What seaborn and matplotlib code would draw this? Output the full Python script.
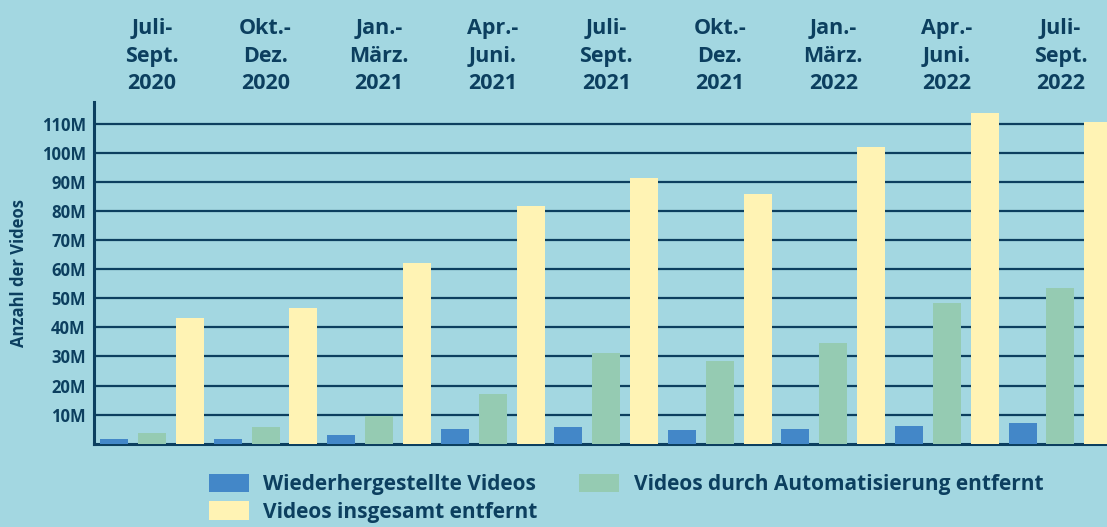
import seaborn as sns
import matplotlib.pyplot as plt
import pandas as pd
from matplotlib.ticker import FuncFormatter

# Quartale (oben als Achsenbeschriftung)
quarters = ["Juli-\nSept.\n2020", "Okt.-\nDez.\n2020", "Jan.-\nMärz.\n2021",
            "Apr.-\nJuni.\n2021", "Juli-\nSept.\n2021", "Okt.-\nDez.\n2021",
            "Jan.-\nMärz.\n2022", "Apr.-\nJuni.\n2022", "Juli-\nSept.\n2022"]

# Werte in Millionen
restored = [1.5, 1.5, 2.9, 5.0, 5.7, 4.6, 5.0, 6.0, 7.0]
automated = [3.6, 5.7, 9.6, 17.0, 31.1, 28.4, 34.5, 48.3, 53.4]
total = [43.1, 46.6, 62.0, 81.6, 91.2, 85.7, 101.9, 113.6, 110.5]

series = ["Wiederhergestellte Videos", "Videos durch Automatisierung entfernt",
          "Videos insgesamt entfernt"]
colors = ["#4387c8", "#95cbb2", "#fff3b4"]

bg = "#a3d7e1"
navy = "#0c3f5f"

rows = []
for i, q in enumerate(quarters):
    for name, vals in zip(series, [restored, automated, total]):
        rows.append({"Quartal": q, "Serie": name, "Wert": vals[i]})
df = pd.DataFrame(rows)

sns.set_style("white")
plt.rcParams["font.family"] = ["Open Sans", "DejaVu Sans"]

fig = plt.figure(figsize=(11.07, 5.27), dpi=100, facecolor=bg)
ax = fig.add_axes([0.085, 0.158, 0.915, 0.648])
ax.set_facecolor(bg)

sns.barplot(data=df, x="Quartal", y="Wert", hue="Serie", hue_order=series,
            palette=colors, width=1.0, gap=0.26, saturation=1, ax=ax,
            linewidth=0, edgecolor="none", zorder=3)

ax.set_ylim(0, 117.4)
ax.set_xlim(-0.51, 8.41)
ax.set_yticks(range(10, 111, 10))
ax.yaxis.set_major_formatter(FuncFormatter(lambda v, p: f"{v:.0f}M"))
ax.grid(axis="y", color=navy, linewidth=1.6, zorder=0)
ax.set_axisbelow(True)

ax.xaxis.tick_top()
ax.set_xlabel("")
ax.set_ylabel("Anzahl der Videos", color=navy, fontsize=12, fontweight="bold",
              labelpad=10)
ax.tick_params(axis="both", length=0, colors=navy)
ax.tick_params(axis="x", pad=6, labelsize=15.5)
ax.tick_params(axis="y", pad=6, labelsize=12)
for t in ax.get_xticklabels():
    t.set_fontweight("bold")
    t.set_linespacing(1.4)
for t in ax.get_yticklabels():
    t.set_fontweight("bold")

for s in ["top", "right"]:
    ax.spines[s].set_visible(False)
for s in ["left", "bottom"]:
    ax.spines[s].set_color(navy)
    ax.spines[s].set_linewidth(2.2)

handles, labels = ax.get_legend_handles_labels()
ax.get_legend().remove()
order = [0, 2, 1]
fig.legend([handles[i] for i in order], [labels[i] for i in order],
           loc="upper left", bbox_to_anchor=(0.172, 0.137), ncol=2,
           frameon=False, labelcolor=navy,
           prop={"weight": "bold", "size": 15},
           handlelength=1.9, handleheight=1.0, handletextpad=0.7,
           columnspacing=2.0, labelspacing=0.3)

fig.savefig("out.png", dpi=100, facecolor=bg)
